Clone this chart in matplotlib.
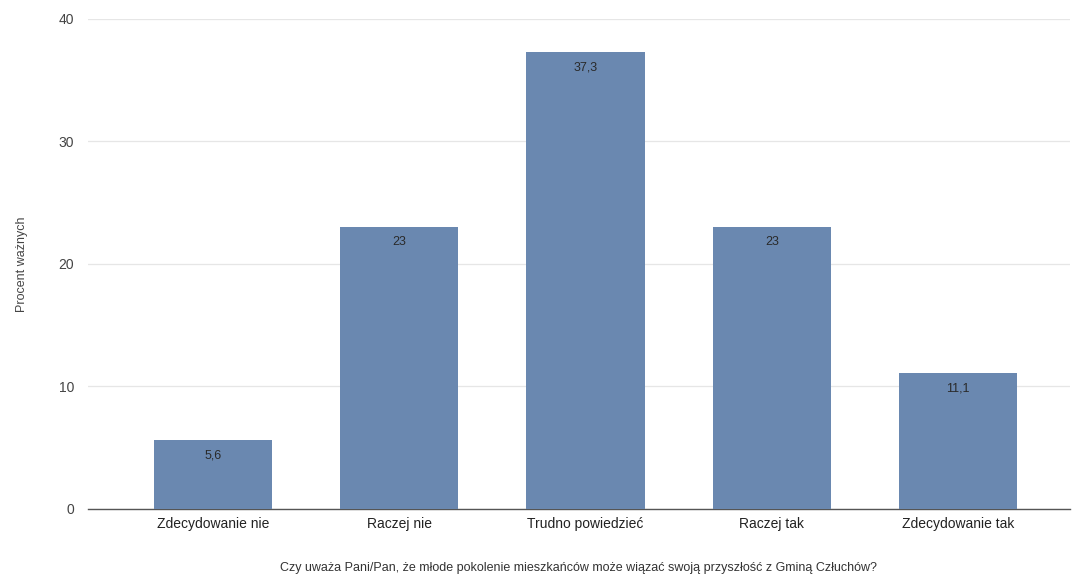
import matplotlib
matplotlib.use("Agg")
import matplotlib.pyplot as plt

categories = ["Zdecydowanie nie", "Raczej nie", "Trudno powiedzieć", "Raczej tak", "Zdecydowanie tak"]
values = [5.6, 23, 37.3, 23, 11.1]
value_labels = ["5,6", "23", "37,3", "23", "11,1"]
yticks = [0, 10, 20, 30, 40]

plt.rcParams['font.family'] = ['Liberation Sans', 'DejaVu Sans']

fig = plt.figure(figsize=(10.76, 5.75), dpi=100)
ax = fig.add_axes([0.0818, 0.1148, 0.9126, 0.8522])

x = list(range(len(categories)))
bars = ax.bar(x, values, width=0.635, color="#6a88b0", zorder=3)
for xi, v, lab in zip(x, values, value_labels):
    ax.text(xi, v - 0.75, lab, ha="center", va="top", fontsize=9, color="#2a2a2a", zorder=4)

ax.set_xlim(-0.67, 4.60)
ax.set_ylim(0, 40)
ax.set_yticks(yticks)
ax.set_yticklabels([str(t) for t in yticks], fontsize=10, color="#444444")
ax.set_xticks(x)
ax.set_xticklabels(categories, fontsize=10, color="#222222")
ax.tick_params(axis="both", length=0, pad=6)
ax.tick_params(axis="y", pad=10)
ax.grid(axis="y", color="#e6e6e6", linewidth=0.9, zorder=0)
for s in ["top", "right", "left"]:
    ax.spines[s].set_visible(False)
ax.spines["bottom"].set_color("#555555")
ax.spines["bottom"].set_linewidth(1.0)

ax.set_ylabel("Procent ważnych", fontsize=9, color="#444444", labelpad=22)
ax.set_xlabel("Czy uważa Pani/Pan, że młode pokolenie mieszkańców może wiązać swoją przyszłość z Gminą Człuchów?",
              fontsize=9, color="#333333", labelpad=22)

fig.savefig("out.png", dpi=100, facecolor="white")
